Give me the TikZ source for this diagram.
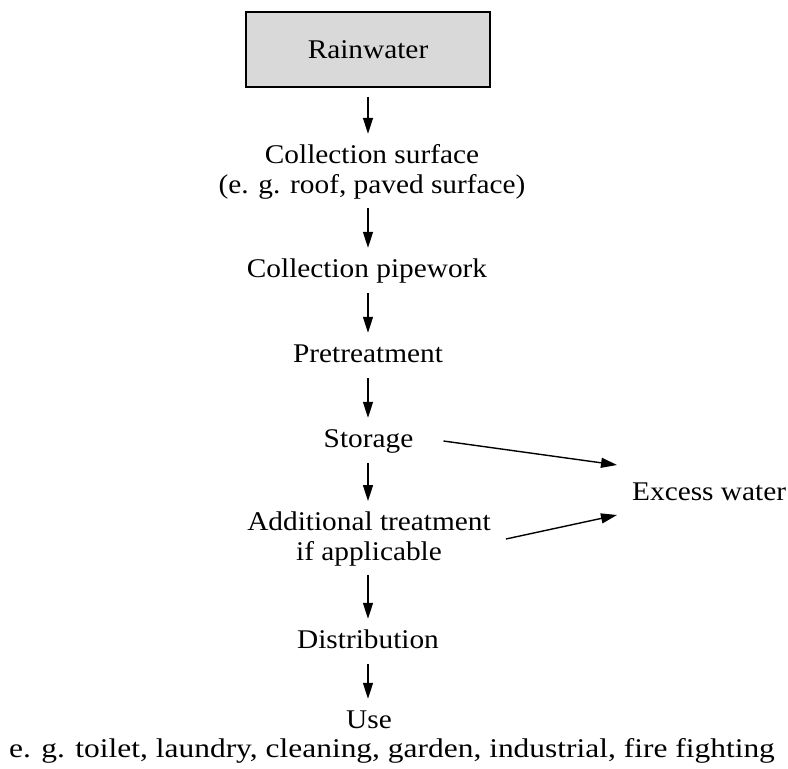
\documentclass[tikz,border=0pt]{standalone}
\usepackage{fontspec}
\setmainfont{Liberation Serif}[FakeStretch=1.086]
\newfontfamily\condfont{Liberation Serif}[FakeStretch=1.165]
\usetikzlibrary{arrows.meta}
\begin{document}
\begin{tikzpicture}[x=1pt,y=1pt,
  lblbase/.style={inner sep=0pt, anchor=base, font=\fontsize{27}{30}\selectfont, align=center},
  lbl/.style={lblbase, text height=19pt, text depth=7pt},
  arr/.style={-{Triangle[length=16pt,width=10pt]}, line width=1.4pt},
  vert/.style={arr, shorten <=9pt, shorten >=10pt},
]
\useasboundingbox (0,0) rectangle (788,-769);
\node[draw, line width=1.8pt, fill=black!15, minimum width=244pt, minimum height=75pt, inner sep=0pt, font=\fontsize{27}{30}\selectfont] (rain) at (368,-49.5) {Rainwater};
\node[lblbase] (cs) at (372,-193) {Collection surface\\(e. g. roof, paved surface)};
\node[lbl] (pipe) at (367,-277) {Collection pipework};
\node[lbl] (pre) at (368,-362) {Pretreatment};
\node[lbl] (sto) at (368.5,-447) {Storage};
\node[lblbase] (add) at (369,-560) {Additional treatment\\if applicable};
\node[lbl] (dist) at (368,-648) {Distribution};
\node[lbl] (use) at (369,-728) {Use};
\node[lbl, anchor=base, font=\fontsize{27}{30}\condfont] (ex) at (392,-757) {e. g. toilet, laundry, cleaning, garden, industrial, fire fighting};
\node[lbl, anchor=base west] (excess) at (632,-500) {Excess water};

\draw[vert] (rain.south) -- (rain.south |- cs.north);
\draw[vert] (rain.south |- cs.south) -- (rain.south |- pipe.north);
\draw[vert] (rain.south |- pipe.south) -- (rain.south |- pre.north);
\draw[vert] (rain.south |- pre.south) -- (rain.south |- sto.north);
\draw[vert] (rain.south |- sto.south) -- (rain.south |- add.north);
\draw[vert] (rain.south |- add.south) -- (rain.south |- dist.north);
\draw[vert] (rain.south |- dist.south) -- (rain.south |- use.north);
\draw[arr] ([shift={(30pt,6pt)}]sto.base east) -- ([shift={(-15pt,35pt)}]excess.base west);
\draw[arr] ([shift={(15pt,21pt)}]add.base east) -- ([shift={(-15pt,-15pt)}]excess.base west);
\end{tikzpicture}
\end{document}
